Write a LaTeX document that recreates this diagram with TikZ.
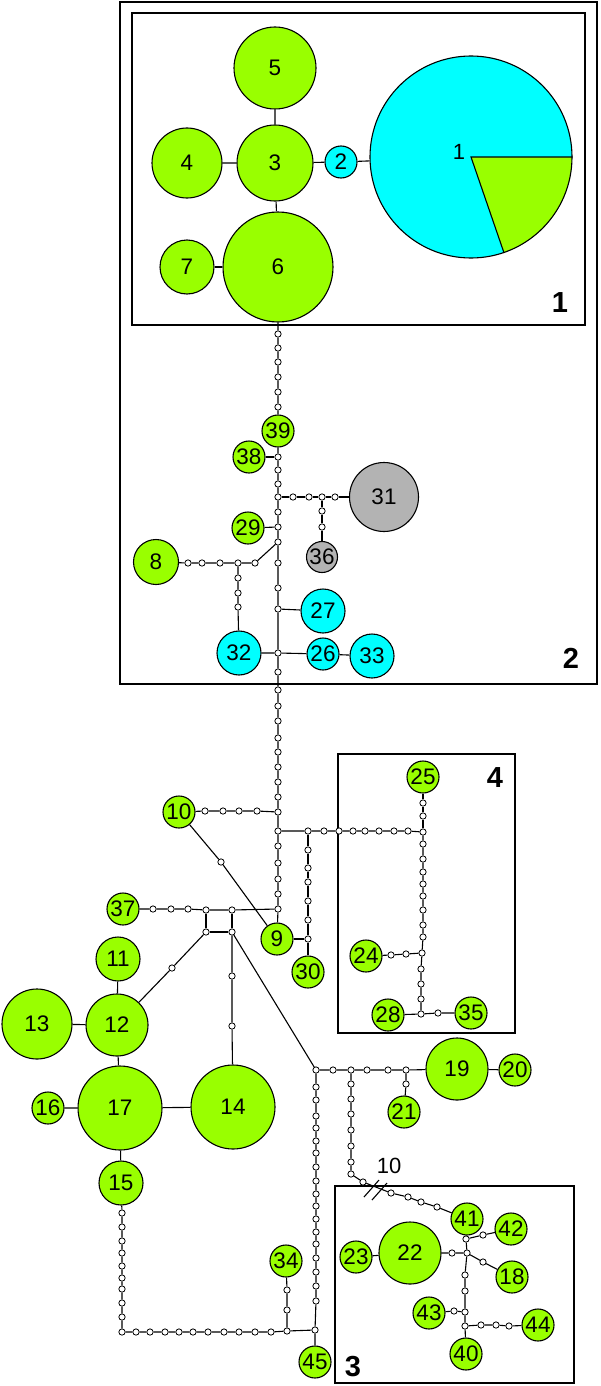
\documentclass[tikz,border=0pt]{standalone}
\usepackage{fontspec}
\setmainfont{Liberation Sans}
\definecolor{hg}{RGB}{153,255,0}
\definecolor{hc}{RGB}{0,255,255}
\definecolor{hy}{RGB}{179,179,179}
\tikzset{
 hap/.style={circle, draw=black, line width=1.1pt, inner sep=0pt, minimum size=#1, font=\fontsize{22.5}{24}\selectfont},
 gn/.style={hap=#1, fill=hg},
 cy/.style={hap=#1, fill=hc},
 gy/.style={hap=#1, fill=hy},
 mv/.style={circle, draw=black, fill=white, line width=0.8pt, inner sep=0pt, minimum size=6.3pt},
 link/.style={line width=1.1pt},
 frame/.style={draw, line width=1.8pt},
 boxlab/.style={font=\fontsize{29}{31}\selectfont\bfseries},
 txt/.style={font=\fontsize{22}{24}\selectfont},
}
\begin{document}
\begin{tikzpicture}[x=1pt,y=-1pt]
\useasboundingbox (0,0) rectangle (600,1386);
\fill[white] (0,0) rectangle (600,1386);
% frames
\draw[frame] (120,2) rectangle (597,684);
\draw[frame] (132,13) rectangle (585,325);
\draw[frame] (338,754) rectangle (515,1033);
\draw[frame] (335,1186) rectangle (574,1383);
\node[boxlab] (L1) at (560,303) {1};
\node[boxlab] (L2) at (571,658) {2};
\node[boxlab] (L4) at (495,778) {4};
\node[boxlab] (L3) at (353,1367) {3};
% top haplotypes
\node[gn=82pt] (n5) at (275,68) {5};
\node[gn=76pt] (n3) at (275,163) {3};
\node[gn=70pt] (n4) at (187,163) {4};
\node[cy=32pt] (n2) at (341,162) {2};
\node[gn=54pt] (n7) at (187,267) {7};
\node[gn=110pt] (n6) at (278,267) {6};
\fill[hc] (471,157) circle[radius=101];
\fill[hg] (471,157) -- (572,157) arc[start angle=0,end angle=71,radius=101] -- cycle;
\node[circle,draw,line width=1.1pt,minimum size=202pt,inner sep=0pt] (n1) at (471,157) {};
\draw[line width=1.1pt] (n1.east) -- (n1.center) -- (n1.-71);
\node[txt] (t1lab) at (459,152) {1};
% region 2
\foreach \y [count=\i] in {334,348,362,377,392,407} \node[mv] (a\i) at (278,\y) {};
\node[gn=32pt] (n39) at (278,431) {39};
\node[mv] (b1) at (278,457) {};
\node[mv] (b2) at (278,470) {};
\node[mv] (b3) at (278,484) {};
\node[mv] (j1) at (278,497) {};
\node[mv] (b4) at (278,512) {};
\node[mv] (b5) at (278,527) {};
\node[mv] (j2) at (278,542) {};
\node[mv] (b6) at (278,563) {};
\node[mv] (b7) at (278,588) {};
\node[mv] (b8) at (278,609) {};
\node[mv] (j3) at (278,653) {};
\foreach \y [count=\i] in {672,690,706,721,738,752,767,782,797} \node[mv] (c\i) at (278,\y) {};
\node[mv] (j4) at (278,812) {};
\node[mv] (j5) at (278,831) {};
\node[mv] (c10) at (278,846) {};
\node[mv] (c11) at (278,863) {};
\node[mv] (c12) at (278,879) {};
\node[mv] (c13) at (278,894) {};
\node[mv] (j6) at (278,909) {};
\node[gn=32pt] (n9) at (277,939) {9};
\node[gn=32pt] (n38) at (249,457) {38};
\node[mv] (d1) at (293,497) {};
\node[mv] (d2) at (309,497) {};
\node[mv] (d3) at (322,497) {};
\node[mv] (d4) at (335,497) {};
\node[gy=69pt] (n31) at (384,497) {31};
\node[mv] (e1) at (322,511) {};
\node[mv] (e2) at (322,527) {};
\node[gy=31pt] (n36) at (322,557) {36};
\node[gn=32pt] (n29) at (248,528) {29};
\node[mv] (f1) at (255,563) {};
\node[mv] (f2) at (238,563) {};
\node[mv] (f3) at (220,563) {};
\node[mv] (f4) at (202,563) {};
\node[mv] (f5) at (188,563) {};
\node[gn=45pt] (n8) at (156,562) {8};
\node[mv] (g1) at (238,578) {};
\node[mv] (g2) at (238,593) {};
\node[mv] (g3) at (238,607) {};
\node[cy=44pt] (n32) at (239,653) {32};
\node[cy=44pt] (n27) at (323,611) {27};
\node[cy=32pt] (n26) at (323,654) {26};
\node[cy=44pt] (n33) at (372,656) {33};
% middle
\node[mv] (h1) at (257,811) {};
\node[mv] (h2) at (239,811) {};
\node[mv] (h3) at (223,811) {};
\node[mv] (h4) at (205,811) {};
\node[gn=32pt] (n10) at (179,812) {10};
\node[mv] (i1) at (221,862) {};
\foreach \x [count=\i] in {308,324,339,353,365,379,394,408} \node[mv] (k\i) at (\x,831) {};
\node[mv] (j7) at (423,832) {};
\foreach \y [count=\i] in {850,868,882,901,920} \node[mv] (l\i) at (308,\y) {};
\node[mv] (j8) at (308,939) {};
\node[gn=32pt] (n30) at (308,972) {30};
\node[mv] (m1) at (423,803) {};
\node[mv] (m2) at (423,816) {};
\node[gn=32pt] (n25) at (423,777) {25};
\foreach \y [count=\i] in {844,859,872,884,896,910,925,937} \node[mv] (p\i) at (423,\y) {};
\node[mv] (j9) at (422,953) {};
\node[mv] (p9) at (421,969) {};
\node[mv] (p10) at (421,984) {};
\node[mv] (p11) at (421,999) {};
\node[mv] (j10) at (421,1014) {};
\node[mv] (r1) at (406,954) {};
\node[mv] (r2) at (391,955) {};
\node[gn=32pt] (n24) at (366,956) {24};
\node[gn=32pt] (n28) at (388,1015) {28};
\node[mv] (r3) at (438,1013) {};
\node[gn=32pt] (n35) at (471,1013) {35};
\node[mv] (q1) at (206,910) {};
\node[mv] (q2) at (232,910) {};
\node[mv] (q3) at (206,932) {};
\node[mv] (q4) at (232,932) {};
\node[mv] (s1) at (188,909) {};
\node[mv] (s2) at (171,909) {};
\node[mv] (s3) at (153,909) {};
\node[gn=32pt] (n37) at (123,909) {37};
\node[mv] (s4) at (172,968) {};
\node[mv] (s5) at (232,976) {};
\node[mv] (s6) at (232,1026) {};
% left cluster
\node[gn=44pt] (n11) at (118,959) {11};
\node[gn=62pt] (n12) at (117,1025) {12};
\node[gn=70pt] (n13) at (37,1024) {13};
\node[gn=84pt] (n17) at (120,1108) {17};
\node[gn=32pt] (n16) at (48,1108) {16};
\node[gn=84pt] (n14) at (233,1107) {14};
\node[gn=44pt] (n15) at (121,1183) {15};
% right lower
\node[mv] (j11) at (316,1070) {};
\node[mv] (u1) at (333,1070) {};
\node[mv] (j12) at (351,1070) {};
\node[mv] (u2) at (367,1070) {};
\node[mv] (u3) at (388,1070) {};
\node[mv] (j13) at (406,1070) {};
\node[gn=62pt] (n19) at (457,1069) {19};
\node[gn=32pt] (n20) at (515,1070) {20};
\node[mv] (u4) at (406,1084) {};
\node[gn=32pt] (n21) at (404,1112) {21};
\foreach \y [count=\i] in {1084,1099,1114,1130,1146,1162,1174} \node[mv] (v\i) at (351,\y) {};
\node[mv] (v8) at (363,1182) {};
\node[mv] (w1) at (391,1193) {};
\node[mv] (w2) at (408,1197) {};
\node[mv] (w3) at (421,1202) {};
\node[mv] (w4) at (437,1207) {};
\node[txt] (brk) at (389,1166) {10};
\coordinate (sa1) at (364,1197);
\coordinate (sa2) at (379,1180);
\coordinate (sb1) at (372,1200);
\coordinate (sb2) at (387,1183);
\foreach \y [count=\i] in {1087,1100,1116,1128,1141,1153,1167,1181,1194,1206,1219,1232,1244,1258,1272,1286,1301} \node[mv] (t\i) at (316,\y) {};
\node[mv] (j14) at (315,1330) {};
\node[gn=32pt] (n45) at (315,1362) {45};
\node[mv] (j15) at (287,1331) {};
\foreach \x [count=\i] in {136,150,165,179,193,208,224,239,255,271} \node[mv] (x\i) at (\x,1332) {};
\node[mv] (xc) at (122,1332) {};
\foreach \y [count=\i] in {1213,1227,1241,1253,1266,1278,1289,1303,1317} \node[mv] (y\i) at (122,\y) {};
\node[mv] (z1) at (287,1310) {};
\node[mv] (z2) at (287,1290) {};
\node[gn=32pt] (n34) at (286,1261) {34};
% box 3
\node[gn=62pt] (n22) at (410,1253) {22};
\node[gn=32pt] (n23) at (356,1257) {23};
\node[gn=32pt] (n41) at (467,1219) {41};
\node[gn=32pt] (n42) at (511,1229) {42};
\node[gn=32pt] (n18) at (512,1277) {18};
\node[gn=32pt] (n43) at (429,1313) {43};
\node[gn=32pt] (n44) at (538,1325) {44};
\node[gn=32pt] (n40) at (466,1354) {40};
\node[mv] (o1) at (452,1253) {};
\node[mv] (j17) at (467,1253) {};
\node[mv] (j16) at (466,1239) {};
\node[mv] (o2) at (483,1235) {};
\node[mv] (o3) at (483,1262) {};
\node[mv] (o4) at (465,1275) {};
\node[mv] (o5) at (465,1291) {};
\node[mv] (j18) at (465,1312) {};
\node[mv] (j19) at (465,1326) {};
\node[mv] (o6) at (454,1311) {};
\node[mv] (o7) at (481,1325) {};
\node[mv] (o8) at (496,1325) {};
\node[mv] (o9) at (509,1326) {};
% connectors
\draw[link] (n5) -- (n3) -- (n6);
\draw[link] (n4) -- (n3) -- (n2) -- (n1);
\draw[link] (n7) -- (n6);
\draw[link] (n6) -- (a1) -- (a2) -- (a3) -- (a4) -- (a5) -- (a6) -- (n39) -- (b1) -- (b2) -- (b3) -- (j1) -- (b4) -- (b5) -- (j2) -- (b6) -- (b7) -- (b8) -- (j3) -- (c1) -- (c2) -- (c3) -- (c4) -- (c5) -- (c6) -- (c7) -- (c8) -- (c9) -- (j4) -- (j5) -- (c10) -- (c11) -- (c12) -- (c13) -- (j6) -- (n9);
\draw[link] (n38) -- (b1);
\draw[link] (j1) -- (d1) -- (d2) -- (d3) -- (d4) -- (n31);
\draw[link] (d3) -- (e1) -- (e2) -- (n36);
\draw[link] (n29) -- (b5);
\draw[link] (j2) -- (f1) -- (f2) -- (f3) -- (f4) -- (f5) -- (n8);
\draw[link] (f2) -- (g1) -- (g2) -- (g3) -- (n32);
\draw[link] (b8) -- (n27);
\draw[link] (n32) -- (j3) -- (n26) -- (n33);
\draw[link] (j4) -- (h1) -- (h2) -- (h3) -- (h4) -- (n10);
\draw[link] (n10) -- (i1) -- (n9);
\draw[link] (j5) -- (k1) -- (k2) -- (k3) -- (k4) -- (k5) -- (k6) -- (k7) -- (k8) -- (j7);
\draw[link] (k1) -- (l1) -- (l2) -- (l3) -- (l4) -- (l5) -- (j8) -- (n30);
\draw[link] (n9) -- (j8);
\draw[link] (j7) -- (m2) -- (m1) -- (n25);
\draw[link] (j7) -- (p1) -- (p2) -- (p3) -- (p4) -- (p5) -- (p6) -- (p7) -- (p8) -- (j9) -- (p9) -- (p10) -- (p11) -- (j10);
\draw[link] (j9) -- (r1) -- (r2) -- (n24);
\draw[link] (n28) -- (j10) -- (r3) -- (n35);
\draw[link] (j6) -- (q2) -- (q1) -- (s1) -- (s2) -- (s3) -- (n37);
\draw[link] (q1) -- (q3) -- (q4) -- (q2);
\draw[link] (q3) -- (s4) -- (n12);
\draw[link] (q4) -- (s5) -- (s6) -- (n14);
\draw[link] (q4) -- (j11);
\draw[link] (n11) -- (n12) -- (n17) -- (n15);
\draw[link] (n13) -- (n12);
\draw[link] (n16) -- (n17) -- (n14);
\draw[link] (j11) -- (u1) -- (j12) -- (u2) -- (u3) -- (j13) -- (n19) -- (n20);
\draw[link] (j13) -- (u4) -- (n21);
\draw[link] (j12) -- (v1) -- (v2) -- (v3) -- (v4) -- (v5) -- (v6) -- (v7) -- (v8) -- (w1) -- (w2) -- (w3) -- (w4) -- (n41);
\draw[link] (sa1) -- (sa2);
\draw[link] (sb1) -- (sb2);
\draw[link] (j11) -- (t1) -- (t2) -- (t3) -- (t4) -- (t5) -- (t6) -- (t7) -- (t8) -- (t9) -- (t10) -- (t11) -- (t12) -- (t13) -- (t14) -- (t15) -- (t16) -- (t17) -- (j14) -- (n45);
\draw[link] (j14) -- (j15) -- (x10) -- (x9) -- (x8) -- (x7) -- (x6) -- (x5) -- (x4) -- (x3) -- (x2) -- (x1) -- (xc) -- (y9) -- (y8) -- (y7) -- (y6) -- (y5) -- (y4) -- (y3) -- (y2) -- (y1) -- (n15);
\draw[link] (j15) -- (z1) -- (z2) -- (n34);
\draw[link] (n23) -- (n22) -- (o1) -- (j17);
\draw[link] (n41) -- (j16) -- (j17);
\draw[link] (j16) -- (o2) -- (n42);
\draw[link] (j17) -- (o3) -- (n18);
\draw[link] (j17) -- (o4) -- (o5) -- (j18) -- (j19) -- (n40);
\draw[link] (j18) -- (o6) -- (n43);
\draw[link] (j19) -- (o7) -- (o8) -- (o9) -- (n44);
\end{tikzpicture}
\end{document}
